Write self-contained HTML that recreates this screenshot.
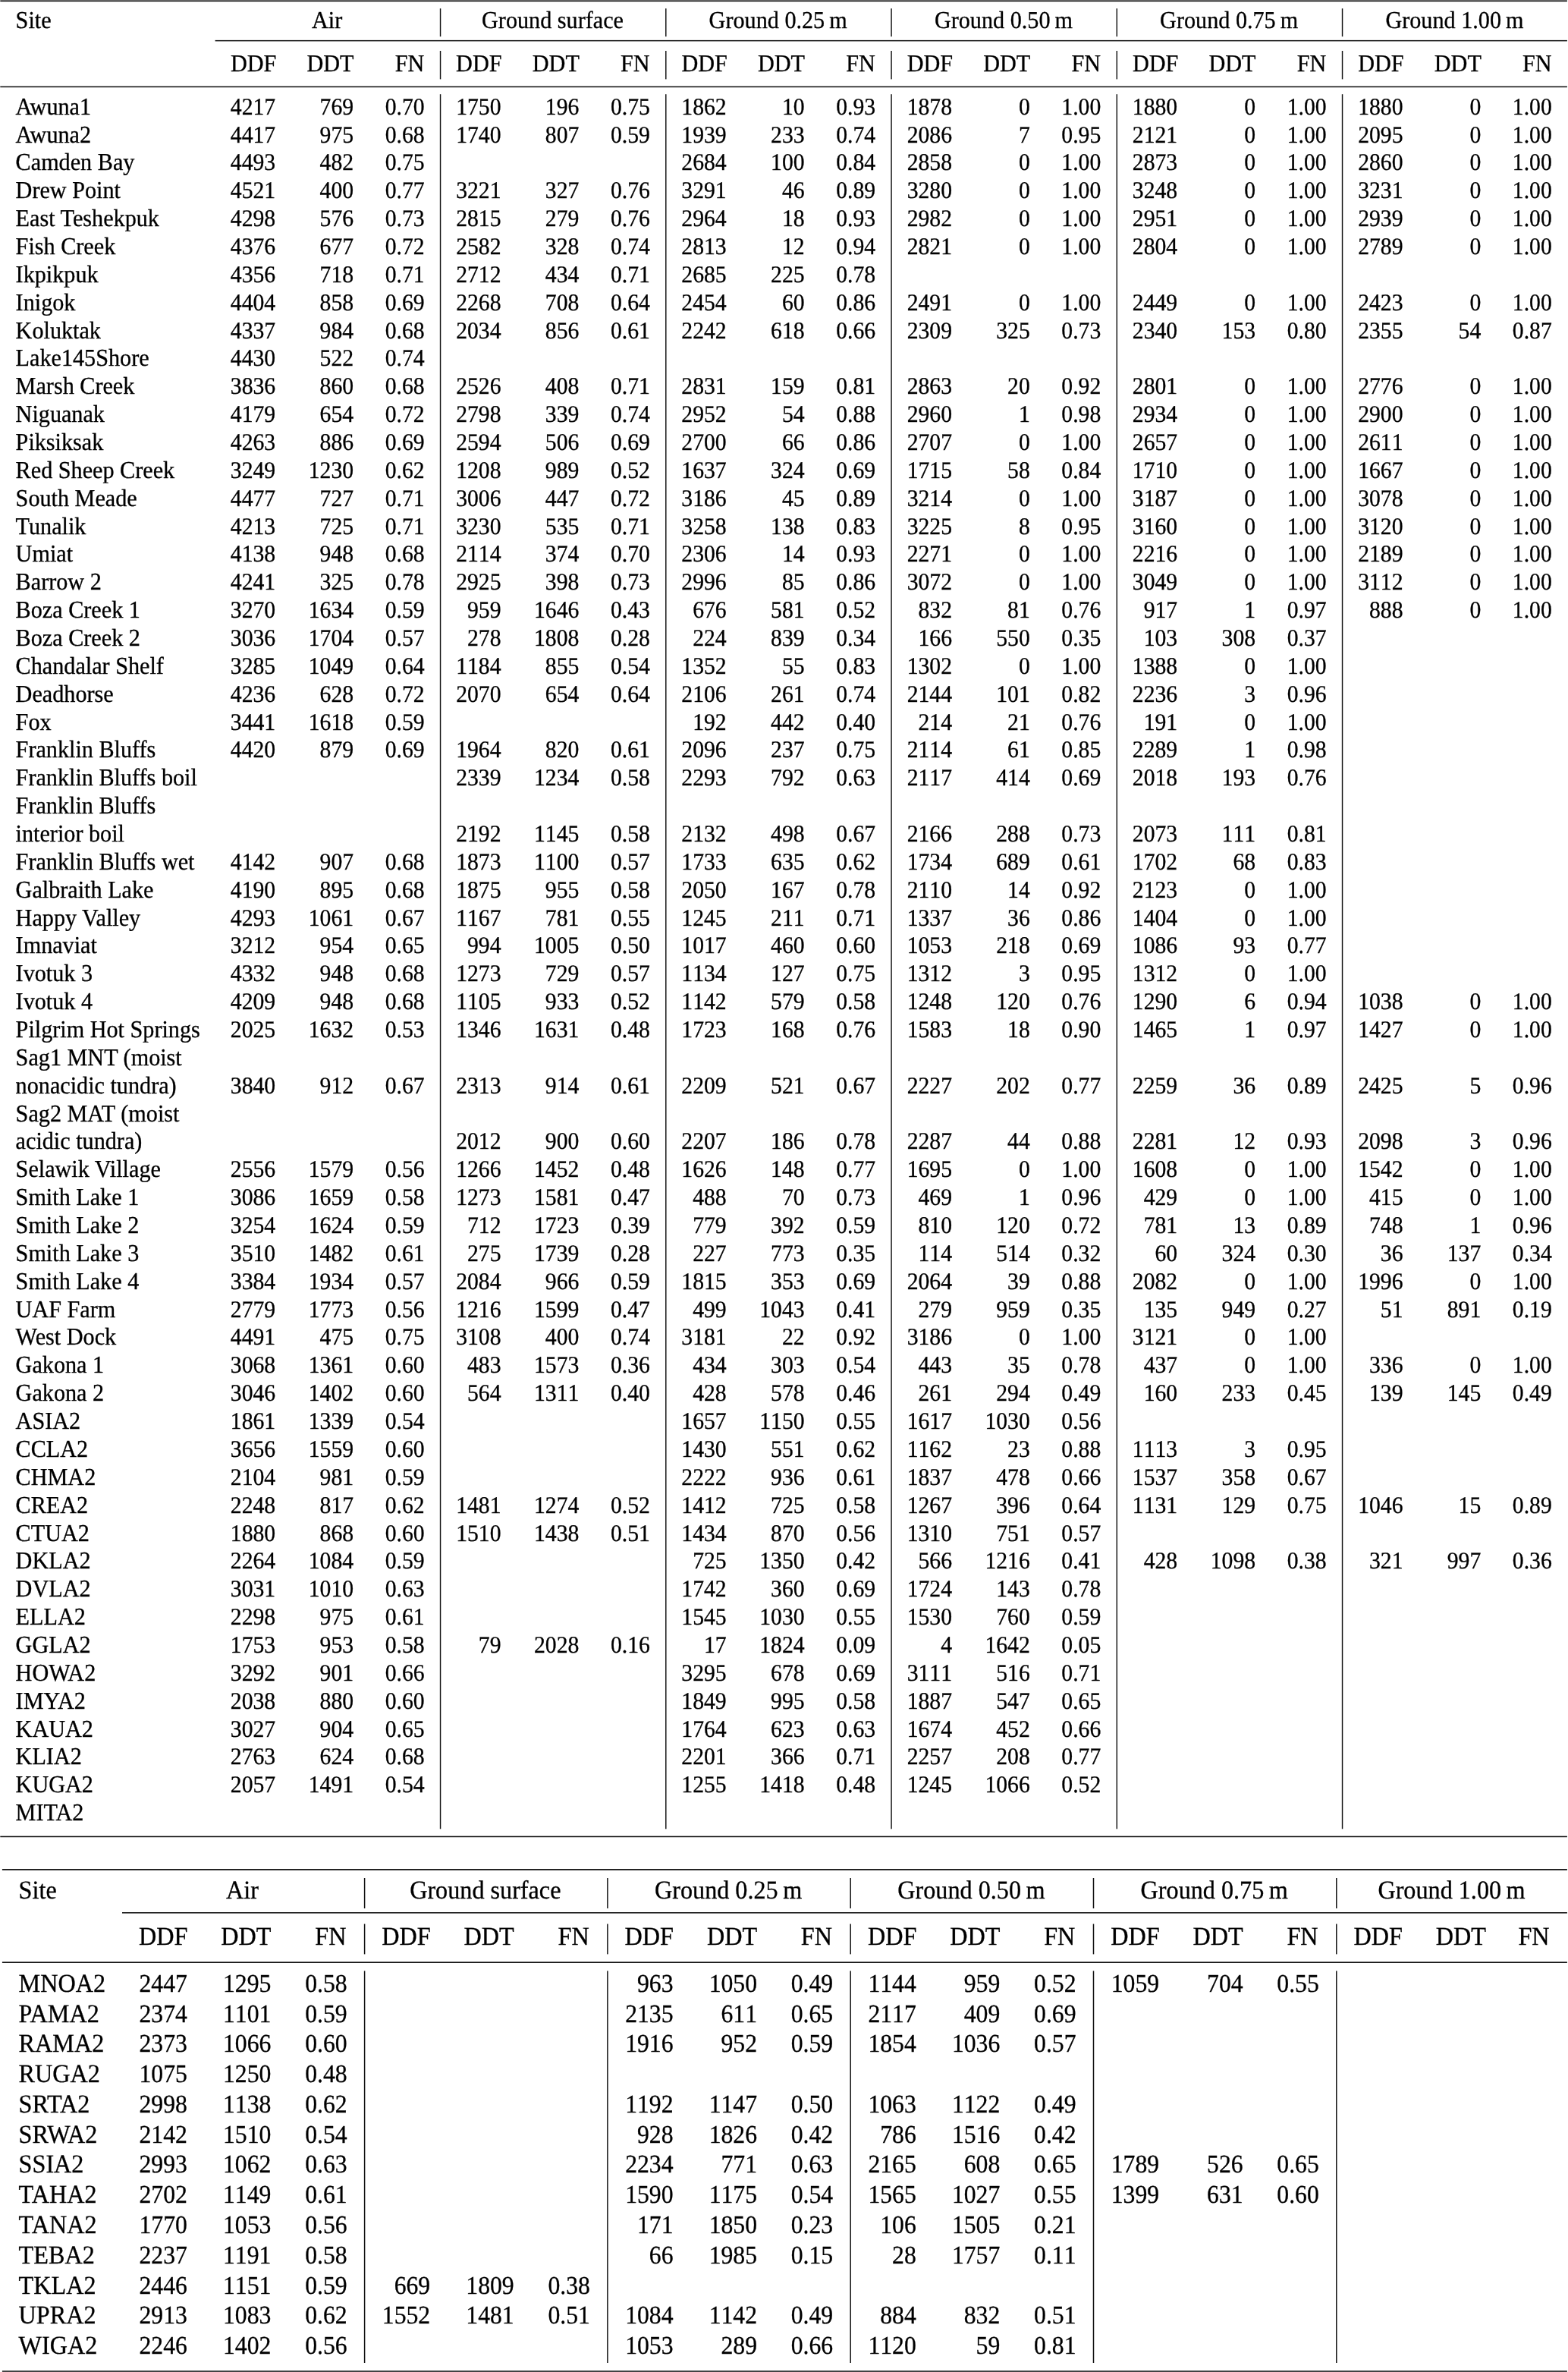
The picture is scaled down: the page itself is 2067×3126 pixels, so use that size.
<!DOCTYPE html>
<html lang="en"><head><meta charset="utf-8"><title>Table</title>
<style>
html,body{margin:0;padding:0;background:#fff;}
body{width:2067px;height:3126px;position:relative;overflow:hidden;font-family:"Liberation Serif","Times New Roman",Times,serif;color:#000;}
.t{position:absolute;white-space:pre;font-kerning:normal;font-variant-ligatures:none;text-rendering:geometricPrecision;-webkit-text-stroke:0.3px #000;}
.r{text-align:right;width:200px;}
.c{text-align:center;width:400px;}
.ln{position:absolute;left:0;top:0;}
.k1 .t{font-size:30.2px;line-height:34px;transform:scaleY(1.06);transform-origin:0 27px;}
.k1 .n{font-size:29.7px;line-height:32px;transform-origin:0 26px;font-kerning:none;}
.k2 .t{font-size:32.2px;line-height:36px;transform:scaleY(1.06);transform-origin:0 29px;}
.k2 .n{font-size:31.7px;line-height:35px;transform-origin:0 28px;font-kerning:none;}
</style></head><body>
<div class="k1" style="will-change:transform">
<div class="t" style="left:20.6px;top:10px">Site</div>
<div class="t c" style="left:231.2px;top:10px">Air</div>
<div class="t" style="left:303.9px;top:67px">DDF</div>
<div class="t" style="left:404.5px;top:67px">DDT</div>
<div class="t r" style="left:359.3px;top:67px">FN</div>
<div class="t c" style="left:528.5px;top:10px">Ground surface</div>
<div class="t" style="left:601.1px;top:67px">DDF</div>
<div class="t" style="left:701.8px;top:67px">DDT</div>
<div class="t r" style="left:656.5px;top:67px">FN</div>
<div class="t c" style="left:825.7px;top:10px">Ground 0.25&#8201;m</div>
<div class="t" style="left:898.4px;top:67px">DDF</div>
<div class="t" style="left:999.0px;top:67px">DDT</div>
<div class="t r" style="left:953.8px;top:67px">FN</div>
<div class="t c" style="left:1123.0px;top:10px">Ground 0.50&#8201;m</div>
<div class="t" style="left:1195.7px;top:67px">DDF</div>
<div class="t" style="left:1296.2px;top:67px">DDT</div>
<div class="t r" style="left:1251.0px;top:67px">FN</div>
<div class="t c" style="left:1420.2px;top:10px">Ground 0.75&#8201;m</div>
<div class="t" style="left:1492.9px;top:67px">DDF</div>
<div class="t" style="left:1593.5px;top:67px">DDT</div>
<div class="t r" style="left:1548.3px;top:67px">FN</div>
<div class="t c" style="left:1717.5px;top:10px">Ground 1.00&#8201;m</div>
<div class="t" style="left:1790.2px;top:67px">DDF</div>
<div class="t" style="left:1890.8px;top:67px">DDT</div>
<div class="t r" style="left:1845.5px;top:67px">FN</div>
<div class="t" style="left:20.6px;top:124px">Awuna1</div>
<div class="t n r" style="left:163.2px;top:126px">4217</div>
<div class="t n r" style="left:266.1px;top:126px">769</div>
<div class="t n r" style="left:359.6px;top:126px">0.70</div>
<div class="t n r" style="left:460.5px;top:126px">1750</div>
<div class="t n r" style="left:563.4px;top:126px">196</div>
<div class="t n r" style="left:656.9px;top:126px">0.75</div>
<div class="t n r" style="left:757.7px;top:126px">1862</div>
<div class="t n r" style="left:860.6px;top:126px">10</div>
<div class="t n r" style="left:954.1px;top:126px">0.93</div>
<div class="t n r" style="left:1055.0px;top:126px">1878</div>
<div class="t n r" style="left:1157.8px;top:126px">0</div>
<div class="t n r" style="left:1251.3px;top:126px">1.00</div>
<div class="t n r" style="left:1352.2px;top:126px">1880</div>
<div class="t n r" style="left:1455.1px;top:126px">0</div>
<div class="t n r" style="left:1548.6px;top:126px">1.00</div>
<div class="t n r" style="left:1649.5px;top:126px">1880</div>
<div class="t n r" style="left:1752.3px;top:126px">0</div>
<div class="t n r" style="left:1845.8px;top:126px">1.00</div>
<div class="t" style="left:20.6px;top:161px">Awuna2</div>
<div class="t n r" style="left:163.2px;top:163px">4417</div>
<div class="t n r" style="left:266.1px;top:163px">975</div>
<div class="t n r" style="left:359.6px;top:163px">0.68</div>
<div class="t n r" style="left:460.5px;top:163px">1740</div>
<div class="t n r" style="left:563.4px;top:163px">807</div>
<div class="t n r" style="left:656.9px;top:163px">0.59</div>
<div class="t n r" style="left:757.7px;top:163px">1939</div>
<div class="t n r" style="left:860.6px;top:163px">233</div>
<div class="t n r" style="left:954.1px;top:163px">0.74</div>
<div class="t n r" style="left:1055.0px;top:163px">2086</div>
<div class="t n r" style="left:1157.8px;top:163px">7</div>
<div class="t n r" style="left:1251.3px;top:163px">0.95</div>
<div class="t n r" style="left:1352.2px;top:163px">2121</div>
<div class="t n r" style="left:1455.1px;top:163px">0</div>
<div class="t n r" style="left:1548.6px;top:163px">1.00</div>
<div class="t n r" style="left:1649.5px;top:163px">2095</div>
<div class="t n r" style="left:1752.3px;top:163px">0</div>
<div class="t n r" style="left:1845.8px;top:163px">1.00</div>
<div class="t" style="left:20.6px;top:197px">Camden Bay</div>
<div class="t n r" style="left:163.2px;top:199px">4493</div>
<div class="t n r" style="left:266.1px;top:199px">482</div>
<div class="t n r" style="left:359.6px;top:199px">0.75</div>
<div class="t n r" style="left:757.7px;top:199px">2684</div>
<div class="t n r" style="left:860.6px;top:199px">100</div>
<div class="t n r" style="left:954.1px;top:199px">0.84</div>
<div class="t n r" style="left:1055.0px;top:199px">2858</div>
<div class="t n r" style="left:1157.8px;top:199px">0</div>
<div class="t n r" style="left:1251.3px;top:199px">1.00</div>
<div class="t n r" style="left:1352.2px;top:199px">2873</div>
<div class="t n r" style="left:1455.1px;top:199px">0</div>
<div class="t n r" style="left:1548.6px;top:199px">1.00</div>
<div class="t n r" style="left:1649.5px;top:199px">2860</div>
<div class="t n r" style="left:1752.3px;top:199px">0</div>
<div class="t n r" style="left:1845.8px;top:199px">1.00</div>
<div class="t" style="left:20.6px;top:234px">Drew Point</div>
<div class="t n r" style="left:163.2px;top:236px">4521</div>
<div class="t n r" style="left:266.1px;top:236px">400</div>
<div class="t n r" style="left:359.6px;top:236px">0.77</div>
<div class="t n r" style="left:460.5px;top:236px">3221</div>
<div class="t n r" style="left:563.4px;top:236px">327</div>
<div class="t n r" style="left:656.9px;top:236px">0.76</div>
<div class="t n r" style="left:757.7px;top:236px">3291</div>
<div class="t n r" style="left:860.6px;top:236px">46</div>
<div class="t n r" style="left:954.1px;top:236px">0.89</div>
<div class="t n r" style="left:1055.0px;top:236px">3280</div>
<div class="t n r" style="left:1157.8px;top:236px">0</div>
<div class="t n r" style="left:1251.3px;top:236px">1.00</div>
<div class="t n r" style="left:1352.2px;top:236px">3248</div>
<div class="t n r" style="left:1455.1px;top:236px">0</div>
<div class="t n r" style="left:1548.6px;top:236px">1.00</div>
<div class="t n r" style="left:1649.5px;top:236px">3231</div>
<div class="t n r" style="left:1752.3px;top:236px">0</div>
<div class="t n r" style="left:1845.8px;top:236px">1.00</div>
<div class="t" style="left:20.6px;top:271px">East Teshekpuk</div>
<div class="t n r" style="left:163.2px;top:273px">4298</div>
<div class="t n r" style="left:266.1px;top:273px">576</div>
<div class="t n r" style="left:359.6px;top:273px">0.73</div>
<div class="t n r" style="left:460.5px;top:273px">2815</div>
<div class="t n r" style="left:563.4px;top:273px">279</div>
<div class="t n r" style="left:656.9px;top:273px">0.76</div>
<div class="t n r" style="left:757.7px;top:273px">2964</div>
<div class="t n r" style="left:860.6px;top:273px">18</div>
<div class="t n r" style="left:954.1px;top:273px">0.93</div>
<div class="t n r" style="left:1055.0px;top:273px">2982</div>
<div class="t n r" style="left:1157.8px;top:273px">0</div>
<div class="t n r" style="left:1251.3px;top:273px">1.00</div>
<div class="t n r" style="left:1352.2px;top:273px">2951</div>
<div class="t n r" style="left:1455.1px;top:273px">0</div>
<div class="t n r" style="left:1548.6px;top:273px">1.00</div>
<div class="t n r" style="left:1649.5px;top:273px">2939</div>
<div class="t n r" style="left:1752.3px;top:273px">0</div>
<div class="t n r" style="left:1845.8px;top:273px">1.00</div>
<div class="t" style="left:20.6px;top:308px">Fish Creek</div>
<div class="t n r" style="left:163.2px;top:310px">4376</div>
<div class="t n r" style="left:266.1px;top:310px">677</div>
<div class="t n r" style="left:359.6px;top:310px">0.72</div>
<div class="t n r" style="left:460.5px;top:310px">2582</div>
<div class="t n r" style="left:563.4px;top:310px">328</div>
<div class="t n r" style="left:656.9px;top:310px">0.74</div>
<div class="t n r" style="left:757.7px;top:310px">2813</div>
<div class="t n r" style="left:860.6px;top:310px">12</div>
<div class="t n r" style="left:954.1px;top:310px">0.94</div>
<div class="t n r" style="left:1055.0px;top:310px">2821</div>
<div class="t n r" style="left:1157.8px;top:310px">0</div>
<div class="t n r" style="left:1251.3px;top:310px">1.00</div>
<div class="t n r" style="left:1352.2px;top:310px">2804</div>
<div class="t n r" style="left:1455.1px;top:310px">0</div>
<div class="t n r" style="left:1548.6px;top:310px">1.00</div>
<div class="t n r" style="left:1649.5px;top:310px">2789</div>
<div class="t n r" style="left:1752.3px;top:310px">0</div>
<div class="t n r" style="left:1845.8px;top:310px">1.00</div>
<div class="t" style="left:20.6px;top:345px">Ikpikpuk</div>
<div class="t n r" style="left:163.2px;top:347px">4356</div>
<div class="t n r" style="left:266.1px;top:347px">718</div>
<div class="t n r" style="left:359.6px;top:347px">0.71</div>
<div class="t n r" style="left:460.5px;top:347px">2712</div>
<div class="t n r" style="left:563.4px;top:347px">434</div>
<div class="t n r" style="left:656.9px;top:347px">0.71</div>
<div class="t n r" style="left:757.7px;top:347px">2685</div>
<div class="t n r" style="left:860.6px;top:347px">225</div>
<div class="t n r" style="left:954.1px;top:347px">0.78</div>
<div class="t" style="left:20.6px;top:382px">Inigok</div>
<div class="t n r" style="left:163.2px;top:384px">4404</div>
<div class="t n r" style="left:266.1px;top:384px">858</div>
<div class="t n r" style="left:359.6px;top:384px">0.69</div>
<div class="t n r" style="left:460.5px;top:384px">2268</div>
<div class="t n r" style="left:563.4px;top:384px">708</div>
<div class="t n r" style="left:656.9px;top:384px">0.64</div>
<div class="t n r" style="left:757.7px;top:384px">2454</div>
<div class="t n r" style="left:860.6px;top:384px">60</div>
<div class="t n r" style="left:954.1px;top:384px">0.86</div>
<div class="t n r" style="left:1055.0px;top:384px">2491</div>
<div class="t n r" style="left:1157.8px;top:384px">0</div>
<div class="t n r" style="left:1251.3px;top:384px">1.00</div>
<div class="t n r" style="left:1352.2px;top:384px">2449</div>
<div class="t n r" style="left:1455.1px;top:384px">0</div>
<div class="t n r" style="left:1548.6px;top:384px">1.00</div>
<div class="t n r" style="left:1649.5px;top:384px">2423</div>
<div class="t n r" style="left:1752.3px;top:384px">0</div>
<div class="t n r" style="left:1845.8px;top:384px">1.00</div>
<div class="t" style="left:20.6px;top:419px">Koluktak</div>
<div class="t n r" style="left:163.2px;top:421px">4337</div>
<div class="t n r" style="left:266.1px;top:421px">984</div>
<div class="t n r" style="left:359.6px;top:421px">0.68</div>
<div class="t n r" style="left:460.5px;top:421px">2034</div>
<div class="t n r" style="left:563.4px;top:421px">856</div>
<div class="t n r" style="left:656.9px;top:421px">0.61</div>
<div class="t n r" style="left:757.7px;top:421px">2242</div>
<div class="t n r" style="left:860.6px;top:421px">618</div>
<div class="t n r" style="left:954.1px;top:421px">0.66</div>
<div class="t n r" style="left:1055.0px;top:421px">2309</div>
<div class="t n r" style="left:1157.8px;top:421px">325</div>
<div class="t n r" style="left:1251.3px;top:421px">0.73</div>
<div class="t n r" style="left:1352.2px;top:421px">2340</div>
<div class="t n r" style="left:1455.1px;top:421px">153</div>
<div class="t n r" style="left:1548.6px;top:421px">0.80</div>
<div class="t n r" style="left:1649.5px;top:421px">2355</div>
<div class="t n r" style="left:1752.3px;top:421px">54</div>
<div class="t n r" style="left:1845.8px;top:421px">0.87</div>
<div class="t" style="left:20.6px;top:455px">Lake145Shore</div>
<div class="t n r" style="left:163.2px;top:457px">4430</div>
<div class="t n r" style="left:266.1px;top:457px">522</div>
<div class="t n r" style="left:359.6px;top:457px">0.74</div>
<div class="t" style="left:20.6px;top:492px">Marsh Creek</div>
<div class="t n r" style="left:163.2px;top:494px">3836</div>
<div class="t n r" style="left:266.1px;top:494px">860</div>
<div class="t n r" style="left:359.6px;top:494px">0.68</div>
<div class="t n r" style="left:460.5px;top:494px">2526</div>
<div class="t n r" style="left:563.4px;top:494px">408</div>
<div class="t n r" style="left:656.9px;top:494px">0.71</div>
<div class="t n r" style="left:757.7px;top:494px">2831</div>
<div class="t n r" style="left:860.6px;top:494px">159</div>
<div class="t n r" style="left:954.1px;top:494px">0.81</div>
<div class="t n r" style="left:1055.0px;top:494px">2863</div>
<div class="t n r" style="left:1157.8px;top:494px">20</div>
<div class="t n r" style="left:1251.3px;top:494px">0.92</div>
<div class="t n r" style="left:1352.2px;top:494px">2801</div>
<div class="t n r" style="left:1455.1px;top:494px">0</div>
<div class="t n r" style="left:1548.6px;top:494px">1.00</div>
<div class="t n r" style="left:1649.5px;top:494px">2776</div>
<div class="t n r" style="left:1752.3px;top:494px">0</div>
<div class="t n r" style="left:1845.8px;top:494px">1.00</div>
<div class="t" style="left:20.6px;top:529px">Niguanak</div>
<div class="t n r" style="left:163.2px;top:531px">4179</div>
<div class="t n r" style="left:266.1px;top:531px">654</div>
<div class="t n r" style="left:359.6px;top:531px">0.72</div>
<div class="t n r" style="left:460.5px;top:531px">2798</div>
<div class="t n r" style="left:563.4px;top:531px">339</div>
<div class="t n r" style="left:656.9px;top:531px">0.74</div>
<div class="t n r" style="left:757.7px;top:531px">2952</div>
<div class="t n r" style="left:860.6px;top:531px">54</div>
<div class="t n r" style="left:954.1px;top:531px">0.88</div>
<div class="t n r" style="left:1055.0px;top:531px">2960</div>
<div class="t n r" style="left:1157.8px;top:531px">1</div>
<div class="t n r" style="left:1251.3px;top:531px">0.98</div>
<div class="t n r" style="left:1352.2px;top:531px">2934</div>
<div class="t n r" style="left:1455.1px;top:531px">0</div>
<div class="t n r" style="left:1548.6px;top:531px">1.00</div>
<div class="t n r" style="left:1649.5px;top:531px">2900</div>
<div class="t n r" style="left:1752.3px;top:531px">0</div>
<div class="t n r" style="left:1845.8px;top:531px">1.00</div>
<div class="t" style="left:20.6px;top:566px">Piksiksak</div>
<div class="t n r" style="left:163.2px;top:568px">4263</div>
<div class="t n r" style="left:266.1px;top:568px">886</div>
<div class="t n r" style="left:359.6px;top:568px">0.69</div>
<div class="t n r" style="left:460.5px;top:568px">2594</div>
<div class="t n r" style="left:563.4px;top:568px">506</div>
<div class="t n r" style="left:656.9px;top:568px">0.69</div>
<div class="t n r" style="left:757.7px;top:568px">2700</div>
<div class="t n r" style="left:860.6px;top:568px">66</div>
<div class="t n r" style="left:954.1px;top:568px">0.86</div>
<div class="t n r" style="left:1055.0px;top:568px">2707</div>
<div class="t n r" style="left:1157.8px;top:568px">0</div>
<div class="t n r" style="left:1251.3px;top:568px">1.00</div>
<div class="t n r" style="left:1352.2px;top:568px">2657</div>
<div class="t n r" style="left:1455.1px;top:568px">0</div>
<div class="t n r" style="left:1548.6px;top:568px">1.00</div>
<div class="t n r" style="left:1649.5px;top:568px">2611</div>
<div class="t n r" style="left:1752.3px;top:568px">0</div>
<div class="t n r" style="left:1845.8px;top:568px">1.00</div>
<div class="t" style="left:20.6px;top:603px">Red Sheep Creek</div>
<div class="t n r" style="left:163.2px;top:605px">3249</div>
<div class="t n r" style="left:266.1px;top:605px">1230</div>
<div class="t n r" style="left:359.6px;top:605px">0.62</div>
<div class="t n r" style="left:460.5px;top:605px">1208</div>
<div class="t n r" style="left:563.4px;top:605px">989</div>
<div class="t n r" style="left:656.9px;top:605px">0.52</div>
<div class="t n r" style="left:757.7px;top:605px">1637</div>
<div class="t n r" style="left:860.6px;top:605px">324</div>
<div class="t n r" style="left:954.1px;top:605px">0.69</div>
<div class="t n r" style="left:1055.0px;top:605px">1715</div>
<div class="t n r" style="left:1157.8px;top:605px">58</div>
<div class="t n r" style="left:1251.3px;top:605px">0.84</div>
<div class="t n r" style="left:1352.2px;top:605px">1710</div>
<div class="t n r" style="left:1455.1px;top:605px">0</div>
<div class="t n r" style="left:1548.6px;top:605px">1.00</div>
<div class="t n r" style="left:1649.5px;top:605px">1667</div>
<div class="t n r" style="left:1752.3px;top:605px">0</div>
<div class="t n r" style="left:1845.8px;top:605px">1.00</div>
<div class="t" style="left:20.6px;top:640px">South Meade</div>
<div class="t n r" style="left:163.2px;top:642px">4477</div>
<div class="t n r" style="left:266.1px;top:642px">727</div>
<div class="t n r" style="left:359.6px;top:642px">0.71</div>
<div class="t n r" style="left:460.5px;top:642px">3006</div>
<div class="t n r" style="left:563.4px;top:642px">447</div>
<div class="t n r" style="left:656.9px;top:642px">0.72</div>
<div class="t n r" style="left:757.7px;top:642px">3186</div>
<div class="t n r" style="left:860.6px;top:642px">45</div>
<div class="t n r" style="left:954.1px;top:642px">0.89</div>
<div class="t n r" style="left:1055.0px;top:642px">3214</div>
<div class="t n r" style="left:1157.8px;top:642px">0</div>
<div class="t n r" style="left:1251.3px;top:642px">1.00</div>
<div class="t n r" style="left:1352.2px;top:642px">3187</div>
<div class="t n r" style="left:1455.1px;top:642px">0</div>
<div class="t n r" style="left:1548.6px;top:642px">1.00</div>
<div class="t n r" style="left:1649.5px;top:642px">3078</div>
<div class="t n r" style="left:1752.3px;top:642px">0</div>
<div class="t n r" style="left:1845.8px;top:642px">1.00</div>
<div class="t" style="left:20.6px;top:677px">Tunalik</div>
<div class="t n r" style="left:163.2px;top:679px">4213</div>
<div class="t n r" style="left:266.1px;top:679px">725</div>
<div class="t n r" style="left:359.6px;top:679px">0.71</div>
<div class="t n r" style="left:460.5px;top:679px">3230</div>
<div class="t n r" style="left:563.4px;top:679px">535</div>
<div class="t n r" style="left:656.9px;top:679px">0.71</div>
<div class="t n r" style="left:757.7px;top:679px">3258</div>
<div class="t n r" style="left:860.6px;top:679px">138</div>
<div class="t n r" style="left:954.1px;top:679px">0.83</div>
<div class="t n r" style="left:1055.0px;top:679px">3225</div>
<div class="t n r" style="left:1157.8px;top:679px">8</div>
<div class="t n r" style="left:1251.3px;top:679px">0.95</div>
<div class="t n r" style="left:1352.2px;top:679px">3160</div>
<div class="t n r" style="left:1455.1px;top:679px">0</div>
<div class="t n r" style="left:1548.6px;top:679px">1.00</div>
<div class="t n r" style="left:1649.5px;top:679px">3120</div>
<div class="t n r" style="left:1752.3px;top:679px">0</div>
<div class="t n r" style="left:1845.8px;top:679px">1.00</div>
<div class="t" style="left:20.6px;top:713px">Umiat</div>
<div class="t n r" style="left:163.2px;top:715px">4138</div>
<div class="t n r" style="left:266.1px;top:715px">948</div>
<div class="t n r" style="left:359.6px;top:715px">0.68</div>
<div class="t n r" style="left:460.5px;top:715px">2114</div>
<div class="t n r" style="left:563.4px;top:715px">374</div>
<div class="t n r" style="left:656.9px;top:715px">0.70</div>
<div class="t n r" style="left:757.7px;top:715px">2306</div>
<div class="t n r" style="left:860.6px;top:715px">14</div>
<div class="t n r" style="left:954.1px;top:715px">0.93</div>
<div class="t n r" style="left:1055.0px;top:715px">2271</div>
<div class="t n r" style="left:1157.8px;top:715px">0</div>
<div class="t n r" style="left:1251.3px;top:715px">1.00</div>
<div class="t n r" style="left:1352.2px;top:715px">2216</div>
<div class="t n r" style="left:1455.1px;top:715px">0</div>
<div class="t n r" style="left:1548.6px;top:715px">1.00</div>
<div class="t n r" style="left:1649.5px;top:715px">2189</div>
<div class="t n r" style="left:1752.3px;top:715px">0</div>
<div class="t n r" style="left:1845.8px;top:715px">1.00</div>
<div class="t" style="left:20.6px;top:750px">Barrow 2</div>
<div class="t n r" style="left:163.2px;top:752px">4241</div>
<div class="t n r" style="left:266.1px;top:752px">325</div>
<div class="t n r" style="left:359.6px;top:752px">0.78</div>
<div class="t n r" style="left:460.5px;top:752px">2925</div>
<div class="t n r" style="left:563.4px;top:752px">398</div>
<div class="t n r" style="left:656.9px;top:752px">0.73</div>
<div class="t n r" style="left:757.7px;top:752px">2996</div>
<div class="t n r" style="left:860.6px;top:752px">85</div>
<div class="t n r" style="left:954.1px;top:752px">0.86</div>
<div class="t n r" style="left:1055.0px;top:752px">3072</div>
<div class="t n r" style="left:1157.8px;top:752px">0</div>
<div class="t n r" style="left:1251.3px;top:752px">1.00</div>
<div class="t n r" style="left:1352.2px;top:752px">3049</div>
<div class="t n r" style="left:1455.1px;top:752px">0</div>
<div class="t n r" style="left:1548.6px;top:752px">1.00</div>
<div class="t n r" style="left:1649.5px;top:752px">3112</div>
<div class="t n r" style="left:1752.3px;top:752px">0</div>
<div class="t n r" style="left:1845.8px;top:752px">1.00</div>
<div class="t" style="left:20.6px;top:787px">Boza Creek 1</div>
<div class="t n r" style="left:163.2px;top:789px">3270</div>
<div class="t n r" style="left:266.1px;top:789px">1634</div>
<div class="t n r" style="left:359.6px;top:789px">0.59</div>
<div class="t n r" style="left:460.5px;top:789px">959</div>
<div class="t n r" style="left:563.4px;top:789px">1646</div>
<div class="t n r" style="left:656.9px;top:789px">0.43</div>
<div class="t n r" style="left:757.7px;top:789px">676</div>
<div class="t n r" style="left:860.6px;top:789px">581</div>
<div class="t n r" style="left:954.1px;top:789px">0.52</div>
<div class="t n r" style="left:1055.0px;top:789px">832</div>
<div class="t n r" style="left:1157.8px;top:789px">81</div>
<div class="t n r" style="left:1251.3px;top:789px">0.76</div>
<div class="t n r" style="left:1352.2px;top:789px">917</div>
<div class="t n r" style="left:1455.1px;top:789px">1</div>
<div class="t n r" style="left:1548.6px;top:789px">0.97</div>
<div class="t n r" style="left:1649.5px;top:789px">888</div>
<div class="t n r" style="left:1752.3px;top:789px">0</div>
<div class="t n r" style="left:1845.8px;top:789px">1.00</div>
<div class="t" style="left:20.6px;top:824px">Boza Creek 2</div>
<div class="t n r" style="left:163.2px;top:826px">3036</div>
<div class="t n r" style="left:266.1px;top:826px">1704</div>
<div class="t n r" style="left:359.6px;top:826px">0.57</div>
<div class="t n r" style="left:460.5px;top:826px">278</div>
<div class="t n r" style="left:563.4px;top:826px">1808</div>
<div class="t n r" style="left:656.9px;top:826px">0.28</div>
<div class="t n r" style="left:757.7px;top:826px">224</div>
<div class="t n r" style="left:860.6px;top:826px">839</div>
<div class="t n r" style="left:954.1px;top:826px">0.34</div>
<div class="t n r" style="left:1055.0px;top:826px">166</div>
<div class="t n r" style="left:1157.8px;top:826px">550</div>
<div class="t n r" style="left:1251.3px;top:826px">0.35</div>
<div class="t n r" style="left:1352.2px;top:826px">103</div>
<div class="t n r" style="left:1455.1px;top:826px">308</div>
<div class="t n r" style="left:1548.6px;top:826px">0.37</div>
<div class="t" style="left:20.6px;top:861px">Chandalar Shelf</div>
<div class="t n r" style="left:163.2px;top:863px">3285</div>
<div class="t n r" style="left:266.1px;top:863px">1049</div>
<div class="t n r" style="left:359.6px;top:863px">0.64</div>
<div class="t n r" style="left:460.5px;top:863px">1184</div>
<div class="t n r" style="left:563.4px;top:863px">855</div>
<div class="t n r" style="left:656.9px;top:863px">0.54</div>
<div class="t n r" style="left:757.7px;top:863px">1352</div>
<div class="t n r" style="left:860.6px;top:863px">55</div>
<div class="t n r" style="left:954.1px;top:863px">0.83</div>
<div class="t n r" style="left:1055.0px;top:863px">1302</div>
<div class="t n r" style="left:1157.8px;top:863px">0</div>
<div class="t n r" style="left:1251.3px;top:863px">1.00</div>
<div class="t n r" style="left:1352.2px;top:863px">1388</div>
<div class="t n r" style="left:1455.1px;top:863px">0</div>
<div class="t n r" style="left:1548.6px;top:863px">1.00</div>
<div class="t" style="left:20.6px;top:898px">Deadhorse</div>
<div class="t n r" style="left:163.2px;top:900px">4236</div>
<div class="t n r" style="left:266.1px;top:900px">628</div>
<div class="t n r" style="left:359.6px;top:900px">0.72</div>
<div class="t n r" style="left:460.5px;top:900px">2070</div>
<div class="t n r" style="left:563.4px;top:900px">654</div>
<div class="t n r" style="left:656.9px;top:900px">0.64</div>
<div class="t n r" style="left:757.7px;top:900px">2106</div>
<div class="t n r" style="left:860.6px;top:900px">261</div>
<div class="t n r" style="left:954.1px;top:900px">0.74</div>
<div class="t n r" style="left:1055.0px;top:900px">2144</div>
<div class="t n r" style="left:1157.8px;top:900px">101</div>
<div class="t n r" style="left:1251.3px;top:900px">0.82</div>
<div class="t n r" style="left:1352.2px;top:900px">2236</div>
<div class="t n r" style="left:1455.1px;top:900px">3</div>
<div class="t n r" style="left:1548.6px;top:900px">0.96</div>
<div class="t" style="left:20.6px;top:935px">Fox</div>
<div class="t n r" style="left:163.2px;top:937px">3441</div>
<div class="t n r" style="left:266.1px;top:937px">1618</div>
<div class="t n r" style="left:359.6px;top:937px">0.59</div>
<div class="t n r" style="left:757.7px;top:937px">192</div>
<div class="t n r" style="left:860.6px;top:937px">442</div>
<div class="t n r" style="left:954.1px;top:937px">0.40</div>
<div class="t n r" style="left:1055.0px;top:937px">214</div>
<div class="t n r" style="left:1157.8px;top:937px">21</div>
<div class="t n r" style="left:1251.3px;top:937px">0.76</div>
<div class="t n r" style="left:1352.2px;top:937px">191</div>
<div class="t n r" style="left:1455.1px;top:937px">0</div>
<div class="t n r" style="left:1548.6px;top:937px">1.00</div>
<div class="t" style="left:20.6px;top:971px">Franklin Bluffs</div>
<div class="t n r" style="left:163.2px;top:973px">4420</div>
<div class="t n r" style="left:266.1px;top:973px">879</div>
<div class="t n r" style="left:359.6px;top:973px">0.69</div>
<div class="t n r" style="left:460.5px;top:973px">1964</div>
<div class="t n r" style="left:563.4px;top:973px">820</div>
<div class="t n r" style="left:656.9px;top:973px">0.61</div>
<div class="t n r" style="left:757.7px;top:973px">2096</div>
<div class="t n r" style="left:860.6px;top:973px">237</div>
<div class="t n r" style="left:954.1px;top:973px">0.75</div>
<div class="t n r" style="left:1055.0px;top:973px">2114</div>
<div class="t n r" style="left:1157.8px;top:973px">61</div>
<div class="t n r" style="left:1251.3px;top:973px">0.85</div>
<div class="t n r" style="left:1352.2px;top:973px">2289</div>
<div class="t n r" style="left:1455.1px;top:973px">1</div>
<div class="t n r" style="left:1548.6px;top:973px">0.98</div>
<div class="t" style="left:20.6px;top:1008px">Franklin Bluffs boil</div>
<div class="t n r" style="left:460.5px;top:1010px">2339</div>
<div class="t n r" style="left:563.4px;top:1010px">1234</div>
<div class="t n r" style="left:656.9px;top:1010px">0.58</div>
<div class="t n r" style="left:757.7px;top:1010px">2293</div>
<div class="t n r" style="left:860.6px;top:1010px">792</div>
<div class="t n r" style="left:954.1px;top:1010px">0.63</div>
<div class="t n r" style="left:1055.0px;top:1010px">2117</div>
<div class="t n r" style="left:1157.8px;top:1010px">414</div>
<div class="t n r" style="left:1251.3px;top:1010px">0.69</div>
<div class="t n r" style="left:1352.2px;top:1010px">2018</div>
<div class="t n r" style="left:1455.1px;top:1010px">193</div>
<div class="t n r" style="left:1548.6px;top:1010px">0.76</div>
<div class="t" style="left:20.6px;top:1045px">Franklin Bluffs</div>
<div class="t" style="left:20.6px;top:1082px">interior boil</div>
<div class="t n r" style="left:460.5px;top:1084px">2192</div>
<div class="t n r" style="left:563.4px;top:1084px">1145</div>
<div class="t n r" style="left:656.9px;top:1084px">0.58</div>
<div class="t n r" style="left:757.7px;top:1084px">2132</div>
<div class="t n r" style="left:860.6px;top:1084px">498</div>
<div class="t n r" style="left:954.1px;top:1084px">0.67</div>
<div class="t n r" style="left:1055.0px;top:1084px">2166</div>
<div class="t n r" style="left:1157.8px;top:1084px">288</div>
<div class="t n r" style="left:1251.3px;top:1084px">0.73</div>
<div class="t n r" style="left:1352.2px;top:1084px">2073</div>
<div class="t n r" style="left:1455.1px;top:1084px">111</div>
<div class="t n r" style="left:1548.6px;top:1084px">0.81</div>
<div class="t" style="left:20.6px;top:1119px">Franklin Bluffs wet</div>
<div class="t n r" style="left:163.2px;top:1121px">4142</div>
<div class="t n r" style="left:266.1px;top:1121px">907</div>
<div class="t n r" style="left:359.6px;top:1121px">0.68</div>
<div class="t n r" style="left:460.5px;top:1121px">1873</div>
<div class="t n r" style="left:563.4px;top:1121px">1100</div>
<div class="t n r" style="left:656.9px;top:1121px">0.57</div>
<div class="t n r" style="left:757.7px;top:1121px">1733</div>
<div class="t n r" style="left:860.6px;top:1121px">635</div>
<div class="t n r" style="left:954.1px;top:1121px">0.62</div>
<div class="t n r" style="left:1055.0px;top:1121px">1734</div>
<div class="t n r" style="left:1157.8px;top:1121px">689</div>
<div class="t n r" style="left:1251.3px;top:1121px">0.61</div>
<div class="t n r" style="left:1352.2px;top:1121px">1702</div>
<div class="t n r" style="left:1455.1px;top:1121px">68</div>
<div class="t n r" style="left:1548.6px;top:1121px">0.83</div>
<div class="t" style="left:20.6px;top:1156px">Galbraith Lake</div>
<div class="t n r" style="left:163.2px;top:1158px">4190</div>
<div class="t n r" style="left:266.1px;top:1158px">895</div>
<div class="t n r" style="left:359.6px;top:1158px">0.68</div>
<div class="t n r" style="left:460.5px;top:1158px">1875</div>
<div class="t n r" style="left:563.4px;top:1158px">955</div>
<div class="t n r" style="left:656.9px;top:1158px">0.58</div>
<div class="t n r" style="left:757.7px;top:1158px">2050</div>
<div class="t n r" style="left:860.6px;top:1158px">167</div>
<div class="t n r" style="left:954.1px;top:1158px">0.78</div>
<div class="t n r" style="left:1055.0px;top:1158px">2110</div>
<div class="t n r" style="left:1157.8px;top:1158px">14</div>
<div class="t n r" style="left:1251.3px;top:1158px">0.92</div>
<div class="t n r" style="left:1352.2px;top:1158px">2123</div>
<div class="t n r" style="left:1455.1px;top:1158px">0</div>
<div class="t n r" style="left:1548.6px;top:1158px">1.00</div>
<div class="t" style="left:20.6px;top:1193px">Happy Valley</div>
<div class="t n r" style="left:163.2px;top:1195px">4293</div>
<div class="t n r" style="left:266.1px;top:1195px">1061</div>
<div class="t n r" style="left:359.6px;top:1195px">0.67</div>
<div class="t n r" style="left:460.5px;top:1195px">1167</div>
<div class="t n r" style="left:563.4px;top:1195px">781</div>
<div class="t n r" style="left:656.9px;top:1195px">0.55</div>
<div class="t n r" style="left:757.7px;top:1195px">1245</div>
<div class="t n r" style="left:860.6px;top:1195px">211</div>
<div class="t n r" style="left:954.1px;top:1195px">0.71</div>
<div class="t n r" style="left:1055.0px;top:1195px">1337</div>
<div class="t n r" style="left:1157.8px;top:1195px">36</div>
<div class="t n r" style="left:1251.3px;top:1195px">0.86</div>
<div class="t n r" style="left:1352.2px;top:1195px">1404</div>
<div class="t n r" style="left:1455.1px;top:1195px">0</div>
<div class="t n r" style="left:1548.6px;top:1195px">1.00</div>
<div class="t" style="left:20.6px;top:1229px">Imnaviat</div>
<div class="t n r" style="left:163.2px;top:1231px">3212</div>
<div class="t n r" style="left:266.1px;top:1231px">954</div>
<div class="t n r" style="left:359.6px;top:1231px">0.65</div>
<div class="t n r" style="left:460.5px;top:1231px">994</div>
<div class="t n r" style="left:563.4px;top:1231px">1005</div>
<div class="t n r" style="left:656.9px;top:1231px">0.50</div>
<div class="t n r" style="left:757.7px;top:1231px">1017</div>
<div class="t n r" style="left:860.6px;top:1231px">460</div>
<div class="t n r" style="left:954.1px;top:1231px">0.60</div>
<div class="t n r" style="left:1055.0px;top:1231px">1053</div>
<div class="t n r" style="left:1157.8px;top:1231px">218</div>
<div class="t n r" style="left:1251.3px;top:1231px">0.69</div>
<div class="t n r" style="left:1352.2px;top:1231px">1086</div>
<div class="t n r" style="left:1455.1px;top:1231px">93</div>
<div class="t n r" style="left:1548.6px;top:1231px">0.77</div>
<div class="t" style="left:20.6px;top:1266px">Ivotuk 3</div>
<div class="t n r" style="left:163.2px;top:1268px">4332</div>
<div class="t n r" style="left:266.1px;top:1268px">948</div>
<div class="t n r" style="left:359.6px;top:1268px">0.68</div>
<div class="t n r" style="left:460.5px;top:1268px">1273</div>
<div class="t n r" style="left:563.4px;top:1268px">729</div>
<div class="t n r" style="left:656.9px;top:1268px">0.57</div>
<div class="t n r" style="left:757.7px;top:1268px">1134</div>
<div class="t n r" style="left:860.6px;top:1268px">127</div>
<div class="t n r" style="left:954.1px;top:1268px">0.75</div>
<div class="t n r" style="left:1055.0px;top:1268px">1312</div>
<div class="t n r" style="left:1157.8px;top:1268px">3</div>
<div class="t n r" style="left:1251.3px;top:1268px">0.95</div>
<div class="t n r" style="left:1352.2px;top:1268px">1312</div>
<div class="t n r" style="left:1455.1px;top:1268px">0</div>
<div class="t n r" style="left:1548.6px;top:1268px">1.00</div>
<div class="t" style="left:20.6px;top:1303px">Ivotuk 4</div>
<div class="t n r" style="left:163.2px;top:1305px">4209</div>
<div class="t n r" style="left:266.1px;top:1305px">948</div>
<div class="t n r" style="left:359.6px;top:1305px">0.68</div>
<div class="t n r" style="left:460.5px;top:1305px">1105</div>
<div class="t n r" style="left:563.4px;top:1305px">933</div>
<div class="t n r" style="left:656.9px;top:1305px">0.52</div>
<div class="t n r" style="left:757.7px;top:1305px">1142</div>
<div class="t n r" style="left:860.6px;top:1305px">579</div>
<div class="t n r" style="left:954.1px;top:1305px">0.58</div>
<div class="t n r" style="left:1055.0px;top:1305px">1248</div>
<div class="t n r" style="left:1157.8px;top:1305px">120</div>
<div class="t n r" style="left:1251.3px;top:1305px">0.76</div>
<div class="t n r" style="left:1352.2px;top:1305px">1290</div>
<div class="t n r" style="left:1455.1px;top:1305px">6</div>
<div class="t n r" style="left:1548.6px;top:1305px">0.94</div>
<div class="t n r" style="left:1649.5px;top:1305px">1038</div>
<div class="t n r" style="left:1752.3px;top:1305px">0</div>
<div class="t n r" style="left:1845.8px;top:1305px">1.00</div>
<div class="t" style="left:20.6px;top:1340px">Pilgrim Hot Springs</div>
<div class="t n r" style="left:163.2px;top:1342px">2025</div>
<div class="t n r" style="left:266.1px;top:1342px">1632</div>
<div class="t n r" style="left:359.6px;top:1342px">0.53</div>
<div class="t n r" style="left:460.5px;top:1342px">1346</div>
<div class="t n r" style="left:563.4px;top:1342px">1631</div>
<div class="t n r" style="left:656.9px;top:1342px">0.48</div>
<div class="t n r" style="left:757.7px;top:1342px">1723</div>
<div class="t n r" style="left:860.6px;top:1342px">168</div>
<div class="t n r" style="left:954.1px;top:1342px">0.76</div>
<div class="t n r" style="left:1055.0px;top:1342px">1583</div>
<div class="t n r" style="left:1157.8px;top:1342px">18</div>
<div class="t n r" style="left:1251.3px;top:1342px">0.90</div>
<div class="t n r" style="left:1352.2px;top:1342px">1465</div>
<div class="t n r" style="left:1455.1px;top:1342px">1</div>
<div class="t n r" style="left:1548.6px;top:1342px">0.97</div>
<div class="t n r" style="left:1649.5px;top:1342px">1427</div>
<div class="t n r" style="left:1752.3px;top:1342px">0</div>
<div class="t n r" style="left:1845.8px;top:1342px">1.00</div>
<div class="t" style="left:20.6px;top:1377px">Sag1 MNT (moist</div>
<div class="t" style="left:20.6px;top:1414px">nonacidic tundra)</div>
<div class="t n r" style="left:163.2px;top:1416px">3840</div>
<div class="t n r" style="left:266.1px;top:1416px">912</div>
<div class="t n r" style="left:359.6px;top:1416px">0.67</div>
<div class="t n r" style="left:460.5px;top:1416px">2313</div>
<div class="t n r" style="left:563.4px;top:1416px">914</div>
<div class="t n r" style="left:656.9px;top:1416px">0.61</div>
<div class="t n r" style="left:757.7px;top:1416px">2209</div>
<div class="t n r" style="left:860.6px;top:1416px">521</div>
<div class="t n r" style="left:954.1px;top:1416px">0.67</div>
<div class="t n r" style="left:1055.0px;top:1416px">2227</div>
<div class="t n r" style="left:1157.8px;top:1416px">202</div>
<div class="t n r" style="left:1251.3px;top:1416px">0.77</div>
<div class="t n r" style="left:1352.2px;top:1416px">2259</div>
<div class="t n r" style="left:1455.1px;top:1416px">36</div>
<div class="t n r" style="left:1548.6px;top:1416px">0.89</div>
<div class="t n r" style="left:1649.5px;top:1416px">2425</div>
<div class="t n r" style="left:1752.3px;top:1416px">5</div>
<div class="t n r" style="left:1845.8px;top:1416px">0.96</div>
<div class="t" style="left:20.6px;top:1451px">Sag2 MAT (moist</div>
<div class="t" style="left:20.6px;top:1487px">acidic tundra)</div>
<div class="t n r" style="left:460.5px;top:1489px">2012</div>
<div class="t n r" style="left:563.4px;top:1489px">900</div>
<div class="t n r" style="left:656.9px;top:1489px">0.60</div>
<div class="t n r" style="left:757.7px;top:1489px">2207</div>
<div class="t n r" style="left:860.6px;top:1489px">186</div>
<div class="t n r" style="left:954.1px;top:1489px">0.78</div>
<div class="t n r" style="left:1055.0px;top:1489px">2287</div>
<div class="t n r" style="left:1157.8px;top:1489px">44</div>
<div class="t n r" style="left:1251.3px;top:1489px">0.88</div>
<div class="t n r" style="left:1352.2px;top:1489px">2281</div>
<div class="t n r" style="left:1455.1px;top:1489px">12</div>
<div class="t n r" style="left:1548.6px;top:1489px">0.93</div>
<div class="t n r" style="left:1649.5px;top:1489px">2098</div>
<div class="t n r" style="left:1752.3px;top:1489px">3</div>
<div class="t n r" style="left:1845.8px;top:1489px">0.96</div>
<div class="t" style="left:20.6px;top:1524px">Selawik Village</div>
<div class="t n r" style="left:163.2px;top:1526px">2556</div>
<div class="t n r" style="left:266.1px;top:1526px">1579</div>
<div class="t n r" style="left:359.6px;top:1526px">0.56</div>
<div class="t n r" style="left:460.5px;top:1526px">1266</div>
<div class="t n r" style="left:563.4px;top:1526px">1452</div>
<div class="t n r" style="left:656.9px;top:1526px">0.48</div>
<div class="t n r" style="left:757.7px;top:1526px">1626</div>
<div class="t n r" style="left:860.6px;top:1526px">148</div>
<div class="t n r" style="left:954.1px;top:1526px">0.77</div>
<div class="t n r" style="left:1055.0px;top:1526px">1695</div>
<div class="t n r" style="left:1157.8px;top:1526px">0</div>
<div class="t n r" style="left:1251.3px;top:1526px">1.00</div>
<div class="t n r" style="left:1352.2px;top:1526px">1608</div>
<div class="t n r" style="left:1455.1px;top:1526px">0</div>
<div class="t n r" style="left:1548.6px;top:1526px">1.00</div>
<div class="t n r" style="left:1649.5px;top:1526px">1542</div>
<div class="t n r" style="left:1752.3px;top:1526px">0</div>
<div class="t n r" style="left:1845.8px;top:1526px">1.00</div>
<div class="t" style="left:20.6px;top:1561px">Smith Lake 1</div>
<div class="t n r" style="left:163.2px;top:1563px">3086</div>
<div class="t n r" style="left:266.1px;top:1563px">1659</div>
<div class="t n r" style="left:359.6px;top:1563px">0.58</div>
<div class="t n r" style="left:460.5px;top:1563px">1273</div>
<div class="t n r" style="left:563.4px;top:1563px">1581</div>
<div class="t n r" style="left:656.9px;top:1563px">0.47</div>
<div class="t n r" style="left:757.7px;top:1563px">488</div>
<div class="t n r" style="left:860.6px;top:1563px">70</div>
<div class="t n r" style="left:954.1px;top:1563px">0.73</div>
<div class="t n r" style="left:1055.0px;top:1563px">469</div>
<div class="t n r" style="left:1157.8px;top:1563px">1</div>
<div class="t n r" style="left:1251.3px;top:1563px">0.96</div>
<div class="t n r" style="left:1352.2px;top:1563px">429</div>
<div class="t n r" style="left:1455.1px;top:1563px">0</div>
<div class="t n r" style="left:1548.6px;top:1563px">1.00</div>
<div class="t n r" style="left:1649.5px;top:1563px">415</div>
<div class="t n r" style="left:1752.3px;top:1563px">0</div>
<div class="t n r" style="left:1845.8px;top:1563px">1.00</div>
<div class="t" style="left:20.6px;top:1598px">Smith Lake 2</div>
<div class="t n r" style="left:163.2px;top:1600px">3254</div>
<div class="t n r" style="left:266.1px;top:1600px">1624</div>
<div class="t n r" style="left:359.6px;top:1600px">0.59</div>
<div class="t n r" style="left:460.5px;top:1600px">712</div>
<div class="t n r" style="left:563.4px;top:1600px">1723</div>
<div class="t n r" style="left:656.9px;top:1600px">0.39</div>
<div class="t n r" style="left:757.7px;top:1600px">779</div>
<div class="t n r" style="left:860.6px;top:1600px">392</div>
<div class="t n r" style="left:954.1px;top:1600px">0.59</div>
<div class="t n r" style="left:1055.0px;top:1600px">810</div>
<div class="t n r" style="left:1157.8px;top:1600px">120</div>
<div class="t n r" style="left:1251.3px;top:1600px">0.72</div>
<div class="t n r" style="left:1352.2px;top:1600px">781</div>
<div class="t n r" style="left:1455.1px;top:1600px">13</div>
<div class="t n r" style="left:1548.6px;top:1600px">0.89</div>
<div class="t n r" style="left:1649.5px;top:1600px">748</div>
<div class="t n r" style="left:1752.3px;top:1600px">1</div>
<div class="t n r" style="left:1845.8px;top:1600px">0.96</div>
<div class="t" style="left:20.6px;top:1635px">Smith Lake 3</div>
<div class="t n r" style="left:163.2px;top:1637px">3510</div>
<div class="t n r" style="left:266.1px;top:1637px">1482</div>
<div class="t n r" style="left:359.6px;top:1637px">0.61</div>
<div class="t n r" style="left:460.5px;top:1637px">275</div>
<div class="t n r" style="left:563.4px;top:1637px">1739</div>
<div class="t n r" style="left:656.9px;top:1637px">0.28</div>
<div class="t n r" style="left:757.7px;top:1637px">227</div>
<div class="t n r" style="left:860.6px;top:1637px">773</div>
<div class="t n r" style="left:954.1px;top:1637px">0.35</div>
<div class="t n r" style="left:1055.0px;top:1637px">114</div>
<div class="t n r" style="left:1157.8px;top:1637px">514</div>
<div class="t n r" style="left:1251.3px;top:1637px">0.32</div>
<div class="t n r" style="left:1352.2px;top:1637px">60</div>
<div class="t n r" style="left:1455.1px;top:1637px">324</div>
<div class="t n r" style="left:1548.6px;top:1637px">0.30</div>
<div class="t n r" style="left:1649.5px;top:1637px">36</div>
<div class="t n r" style="left:1752.3px;top:1637px">137</div>
<div class="t n r" style="left:1845.8px;top:1637px">0.34</div>
<div class="t" style="left:20.6px;top:1672px">Smith Lake 4</div>
<div class="t n r" style="left:163.2px;top:1674px">3384</div>
<div class="t n r" style="left:266.1px;top:1674px">1934</div>
<div class="t n r" style="left:359.6px;top:1674px">0.57</div>
<div class="t n r" style="left:460.5px;top:1674px">2084</div>
<div class="t n r" style="left:563.4px;top:1674px">966</div>
<div class="t n r" style="left:656.9px;top:1674px">0.59</div>
<div class="t n r" style="left:757.7px;top:1674px">1815</div>
<div class="t n r" style="left:860.6px;top:1674px">353</div>
<div class="t n r" style="left:954.1px;top:1674px">0.69</div>
<div class="t n r" style="left:1055.0px;top:1674px">2064</div>
<div class="t n r" style="left:1157.8px;top:1674px">39</div>
<div class="t n r" style="left:1251.3px;top:1674px">0.88</div>
<div class="t n r" style="left:1352.2px;top:1674px">2082</div>
<div class="t n r" style="left:1455.1px;top:1674px">0</div>
<div class="t n r" style="left:1548.6px;top:1674px">1.00</div>
<div class="t n r" style="left:1649.5px;top:1674px">1996</div>
<div class="t n r" style="left:1752.3px;top:1674px">0</div>
<div class="t n r" style="left:1845.8px;top:1674px">1.00</div>
<div class="t" style="left:20.6px;top:1709px">UAF Farm</div>
<div class="t n r" style="left:163.2px;top:1711px">2779</div>
<div class="t n r" style="left:266.1px;top:1711px">1773</div>
<div class="t n r" style="left:359.6px;top:1711px">0.56</div>
<div class="t n r" style="left:460.5px;top:1711px">1216</div>
<div class="t n r" style="left:563.4px;top:1711px">1599</div>
<div class="t n r" style="left:656.9px;top:1711px">0.47</div>
<div class="t n r" style="left:757.7px;top:1711px">499</div>
<div class="t n r" style="left:860.6px;top:1711px">1043</div>
<div class="t n r" style="left:954.1px;top:1711px">0.41</div>
<div class="t n r" style="left:1055.0px;top:1711px">279</div>
<div class="t n r" style="left:1157.8px;top:1711px">959</div>
<div class="t n r" style="left:1251.3px;top:1711px">0.35</div>
<div class="t n r" style="left:1352.2px;top:1711px">135</div>
<div class="t n r" style="left:1455.1px;top:1711px">949</div>
<div class="t n r" style="left:1548.6px;top:1711px">0.27</div>
<div class="t n r" style="left:1649.5px;top:1711px">51</div>
<div class="t n r" style="left:1752.3px;top:1711px">891</div>
<div class="t n r" style="left:1845.8px;top:1711px">0.19</div>
<div class="t" style="left:20.6px;top:1745px">West Dock</div>
<div class="t n r" style="left:163.2px;top:1747px">4491</div>
<div class="t n r" style="left:266.1px;top:1747px">475</div>
<div class="t n r" style="left:359.6px;top:1747px">0.75</div>
<div class="t n r" style="left:460.5px;top:1747px">3108</div>
<div class="t n r" style="left:563.4px;top:1747px">400</div>
<div class="t n r" style="left:656.9px;top:1747px">0.74</div>
<div class="t n r" style="left:757.7px;top:1747px">3181</div>
<div class="t n r" style="left:860.6px;top:1747px">22</div>
<div class="t n r" style="left:954.1px;top:1747px">0.92</div>
<div class="t n r" style="left:1055.0px;top:1747px">3186</div>
<div class="t n r" style="left:1157.8px;top:1747px">0</div>
<div class="t n r" style="left:1251.3px;top:1747px">1.00</div>
<div class="t n r" style="left:1352.2px;top:1747px">3121</div>
<div class="t n r" style="left:1455.1px;top:1747px">0</div>
<div class="t n r" style="left:1548.6px;top:1747px">1.00</div>
<div class="t" style="left:20.6px;top:1782px">Gakona 1</div>
<div class="t n r" style="left:163.2px;top:1784px">3068</div>
<div class="t n r" style="left:266.1px;top:1784px">1361</div>
<div class="t n r" style="left:359.6px;top:1784px">0.60</div>
<div class="t n r" style="left:460.5px;top:1784px">483</div>
<div class="t n r" style="left:563.4px;top:1784px">1573</div>
<div class="t n r" style="left:656.9px;top:1784px">0.36</div>
<div class="t n r" style="left:757.7px;top:1784px">434</div>
<div class="t n r" style="left:860.6px;top:1784px">303</div>
<div class="t n r" style="left:954.1px;top:1784px">0.54</div>
<div class="t n r" style="left:1055.0px;top:1784px">443</div>
<div class="t n r" style="left:1157.8px;top:1784px">35</div>
<div class="t n r" style="left:1251.3px;top:1784px">0.78</div>
<div class="t n r" style="left:1352.2px;top:1784px">437</div>
<div class="t n r" style="left:1455.1px;top:1784px">0</div>
<div class="t n r" style="left:1548.6px;top:1784px">1.00</div>
<div class="t n r" style="left:1649.5px;top:1784px">336</div>
<div class="t n r" style="left:1752.3px;top:1784px">0</div>
<div class="t n r" style="left:1845.8px;top:1784px">1.00</div>
<div class="t" style="left:20.6px;top:1819px">Gakona 2</div>
<div class="t n r" style="left:163.2px;top:1821px">3046</div>
<div class="t n r" style="left:266.1px;top:1821px">1402</div>
<div class="t n r" style="left:359.6px;top:1821px">0.60</div>
<div class="t n r" style="left:460.5px;top:1821px">564</div>
<div class="t n r" style="left:563.4px;top:1821px">1311</div>
<div class="t n r" style="left:656.9px;top:1821px">0.40</div>
<div class="t n r" style="left:757.7px;top:1821px">428</div>
<div class="t n r" style="left:860.6px;top:1821px">578</div>
<div class="t n r" style="left:954.1px;top:1821px">0.46</div>
<div class="t n r" style="left:1055.0px;top:1821px">261</div>
<div class="t n r" style="left:1157.8px;top:1821px">294</div>
<div class="t n r" style="left:1251.3px;top:1821px">0.49</div>
<div class="t n r" style="left:1352.2px;top:1821px">160</div>
<div class="t n r" style="left:1455.1px;top:1821px">233</div>
<div class="t n r" style="left:1548.6px;top:1821px">0.45</div>
<div class="t n r" style="left:1649.5px;top:1821px">139</div>
<div class="t n r" style="left:1752.3px;top:1821px">145</div>
<div class="t n r" style="left:1845.8px;top:1821px">0.49</div>
<div class="t" style="left:20.6px;top:1856px">ASIA2</div>
<div class="t n r" style="left:163.2px;top:1858px">1861</div>
<div class="t n r" style="left:266.1px;top:1858px">1339</div>
<div class="t n r" style="left:359.6px;top:1858px">0.54</div>
<div class="t n r" style="left:757.7px;top:1858px">1657</div>
<div class="t n r" style="left:860.6px;top:1858px">1150</div>
<div class="t n r" style="left:954.1px;top:1858px">0.55</div>
<div class="t n r" style="left:1055.0px;top:1858px">1617</div>
<div class="t n r" style="left:1157.8px;top:1858px">1030</div>
<div class="t n r" style="left:1251.3px;top:1858px">0.56</div>
<div class="t" style="left:20.6px;top:1893px">CCLA2</div>
<div class="t n r" style="left:163.2px;top:1895px">3656</div>
<div class="t n r" style="left:266.1px;top:1895px">1559</div>
<div class="t n r" style="left:359.6px;top:1895px">0.60</div>
<div class="t n r" style="left:757.7px;top:1895px">1430</div>
<div class="t n r" style="left:860.6px;top:1895px">551</div>
<div class="t n r" style="left:954.1px;top:1895px">0.62</div>
<div class="t n r" style="left:1055.0px;top:1895px">1162</div>
<div class="t n r" style="left:1157.8px;top:1895px">23</div>
<div class="t n r" style="left:1251.3px;top:1895px">0.88</div>
<div class="t n r" style="left:1352.2px;top:1895px">1113</div>
<div class="t n r" style="left:1455.1px;top:1895px">3</div>
<div class="t n r" style="left:1548.6px;top:1895px">0.95</div>
<div class="t" style="left:20.6px;top:1930px">CHMA2</div>
<div class="t n r" style="left:163.2px;top:1932px">2104</div>
<div class="t n r" style="left:266.1px;top:1932px">981</div>
<div class="t n r" style="left:359.6px;top:1932px">0.59</div>
<div class="t n r" style="left:757.7px;top:1932px">2222</div>
<div class="t n r" style="left:860.6px;top:1932px">936</div>
<div class="t n r" style="left:954.1px;top:1932px">0.61</div>
<div class="t n r" style="left:1055.0px;top:1932px">1837</div>
<div class="t n r" style="left:1157.8px;top:1932px">478</div>
<div class="t n r" style="left:1251.3px;top:1932px">0.66</div>
<div class="t n r" style="left:1352.2px;top:1932px">1537</div>
<div class="t n r" style="left:1455.1px;top:1932px">358</div>
<div class="t n r" style="left:1548.6px;top:1932px">0.67</div>
<div class="t" style="left:20.6px;top:1967px">CREA2</div>
<div class="t n r" style="left:163.2px;top:1969px">2248</div>
<div class="t n r" style="left:266.1px;top:1969px">817</div>
<div class="t n r" style="left:359.6px;top:1969px">0.62</div>
<div class="t n r" style="left:460.5px;top:1969px">1481</div>
<div class="t n r" style="left:563.4px;top:1969px">1274</div>
<div class="t n r" style="left:656.9px;top:1969px">0.52</div>
<div class="t n r" style="left:757.7px;top:1969px">1412</div>
<div class="t n r" style="left:860.6px;top:1969px">725</div>
<div class="t n r" style="left:954.1px;top:1969px">0.58</div>
<div class="t n r" style="left:1055.0px;top:1969px">1267</div>
<div class="t n r" style="left:1157.8px;top:1969px">396</div>
<div class="t n r" style="left:1251.3px;top:1969px">0.64</div>
<div class="t n r" style="left:1352.2px;top:1969px">1131</div>
<div class="t n r" style="left:1455.1px;top:1969px">129</div>
<div class="t n r" style="left:1548.6px;top:1969px">0.75</div>
<div class="t n r" style="left:1649.5px;top:1969px">1046</div>
<div class="t n r" style="left:1752.3px;top:1969px">15</div>
<div class="t n r" style="left:1845.8px;top:1969px">0.89</div>
<div class="t" style="left:20.6px;top:2004px">CTUA2</div>
<div class="t n r" style="left:163.2px;top:2006px">1880</div>
<div class="t n r" style="left:266.1px;top:2006px">868</div>
<div class="t n r" style="left:359.6px;top:2006px">0.60</div>
<div class="t n r" style="left:460.5px;top:2006px">1510</div>
<div class="t n r" style="left:563.4px;top:2006px">1438</div>
<div class="t n r" style="left:656.9px;top:2006px">0.51</div>
<div class="t n r" style="left:757.7px;top:2006px">1434</div>
<div class="t n r" style="left:860.6px;top:2006px">870</div>
<div class="t n r" style="left:954.1px;top:2006px">0.56</div>
<div class="t n r" style="left:1055.0px;top:2006px">1310</div>
<div class="t n r" style="left:1157.8px;top:2006px">751</div>
<div class="t n r" style="left:1251.3px;top:2006px">0.57</div>
<div class="t" style="left:20.6px;top:2040px">DKLA2</div>
<div class="t n r" style="left:163.2px;top:2042px">2264</div>
<div class="t n r" style="left:266.1px;top:2042px">1084</div>
<div class="t n r" style="left:359.6px;top:2042px">0.59</div>
<div class="t n r" style="left:757.7px;top:2042px">725</div>
<div class="t n r" style="left:860.6px;top:2042px">1350</div>
<div class="t n r" style="left:954.1px;top:2042px">0.42</div>
<div class="t n r" style="left:1055.0px;top:2042px">566</div>
<div class="t n r" style="left:1157.8px;top:2042px">1216</div>
<div class="t n r" style="left:1251.3px;top:2042px">0.41</div>
<div class="t n r" style="left:1352.2px;top:2042px">428</div>
<div class="t n r" style="left:1455.1px;top:2042px">1098</div>
<div class="t n r" style="left:1548.6px;top:2042px">0.38</div>
<div class="t n r" style="left:1649.5px;top:2042px">321</div>
<div class="t n r" style="left:1752.3px;top:2042px">997</div>
<div class="t n r" style="left:1845.8px;top:2042px">0.36</div>
<div class="t" style="left:20.6px;top:2077px">DVLA2</div>
<div class="t n r" style="left:163.2px;top:2079px">3031</div>
<div class="t n r" style="left:266.1px;top:2079px">1010</div>
<div class="t n r" style="left:359.6px;top:2079px">0.63</div>
<div class="t n r" style="left:757.7px;top:2079px">1742</div>
<div class="t n r" style="left:860.6px;top:2079px">360</div>
<div class="t n r" style="left:954.1px;top:2079px">0.69</div>
<div class="t n r" style="left:1055.0px;top:2079px">1724</div>
<div class="t n r" style="left:1157.8px;top:2079px">143</div>
<div class="t n r" style="left:1251.3px;top:2079px">0.78</div>
<div class="t" style="left:20.6px;top:2114px">ELLA2</div>
<div class="t n r" style="left:163.2px;top:2116px">2298</div>
<div class="t n r" style="left:266.1px;top:2116px">975</div>
<div class="t n r" style="left:359.6px;top:2116px">0.61</div>
<div class="t n r" style="left:757.7px;top:2116px">1545</div>
<div class="t n r" style="left:860.6px;top:2116px">1030</div>
<div class="t n r" style="left:954.1px;top:2116px">0.55</div>
<div class="t n r" style="left:1055.0px;top:2116px">1530</div>
<div class="t n r" style="left:1157.8px;top:2116px">760</div>
<div class="t n r" style="left:1251.3px;top:2116px">0.59</div>
<div class="t" style="left:20.6px;top:2151px">GGLA2</div>
<div class="t n r" style="left:163.2px;top:2153px">1753</div>
<div class="t n r" style="left:266.1px;top:2153px">953</div>
<div class="t n r" style="left:359.6px;top:2153px">0.58</div>
<div class="t n r" style="left:460.5px;top:2153px">79</div>
<div class="t n r" style="left:563.4px;top:2153px">2028</div>
<div class="t n r" style="left:656.9px;top:2153px">0.16</div>
<div class="t n r" style="left:757.7px;top:2153px">17</div>
<div class="t n r" style="left:860.6px;top:2153px">1824</div>
<div class="t n r" style="left:954.1px;top:2153px">0.09</div>
<div class="t n r" style="left:1055.0px;top:2153px">4</div>
<div class="t n r" style="left:1157.8px;top:2153px">1642</div>
<div class="t n r" style="left:1251.3px;top:2153px">0.05</div>
<div class="t" style="left:20.6px;top:2188px">HOWA2</div>
<div class="t n r" style="left:163.2px;top:2190px">3292</div>
<div class="t n r" style="left:266.1px;top:2190px">901</div>
<div class="t n r" style="left:359.6px;top:2190px">0.66</div>
<div class="t n r" style="left:757.7px;top:2190px">3295</div>
<div class="t n r" style="left:860.6px;top:2190px">678</div>
<div class="t n r" style="left:954.1px;top:2190px">0.69</div>
<div class="t n r" style="left:1055.0px;top:2190px">3111</div>
<div class="t n r" style="left:1157.8px;top:2190px">516</div>
<div class="t n r" style="left:1251.3px;top:2190px">0.71</div>
<div class="t" style="left:20.6px;top:2225px">IMYA2</div>
<div class="t n r" style="left:163.2px;top:2227px">2038</div>
<div class="t n r" style="left:266.1px;top:2227px">880</div>
<div class="t n r" style="left:359.6px;top:2227px">0.60</div>
<div class="t n r" style="left:757.7px;top:2227px">1849</div>
<div class="t n r" style="left:860.6px;top:2227px">995</div>
<div class="t n r" style="left:954.1px;top:2227px">0.58</div>
<div class="t n r" style="left:1055.0px;top:2227px">1887</div>
<div class="t n r" style="left:1157.8px;top:2227px">547</div>
<div class="t n r" style="left:1251.3px;top:2227px">0.65</div>
<div class="t" style="left:20.6px;top:2262px">KAUA2</div>
<div class="t n r" style="left:163.2px;top:2264px">3027</div>
<div class="t n r" style="left:266.1px;top:2264px">904</div>
<div class="t n r" style="left:359.6px;top:2264px">0.65</div>
<div class="t n r" style="left:757.7px;top:2264px">1764</div>
<div class="t n r" style="left:860.6px;top:2264px">623</div>
<div class="t n r" style="left:954.1px;top:2264px">0.63</div>
<div class="t n r" style="left:1055.0px;top:2264px">1674</div>
<div class="t n r" style="left:1157.8px;top:2264px">452</div>
<div class="t n r" style="left:1251.3px;top:2264px">0.66</div>
<div class="t" style="left:20.6px;top:2298px">KLIA2</div>
<div class="t n r" style="left:163.2px;top:2300px">2763</div>
<div class="t n r" style="left:266.1px;top:2300px">624</div>
<div class="t n r" style="left:359.6px;top:2300px">0.68</div>
<div class="t n r" style="left:757.7px;top:2300px">2201</div>
<div class="t n r" style="left:860.6px;top:2300px">366</div>
<div class="t n r" style="left:954.1px;top:2300px">0.71</div>
<div class="t n r" style="left:1055.0px;top:2300px">2257</div>
<div class="t n r" style="left:1157.8px;top:2300px">208</div>
<div class="t n r" style="left:1251.3px;top:2300px">0.77</div>
<div class="t" style="left:20.6px;top:2335px">KUGA2</div>
<div class="t n r" style="left:163.2px;top:2337px">2057</div>
<div class="t n r" style="left:266.1px;top:2337px">1491</div>
<div class="t n r" style="left:359.6px;top:2337px">0.54</div>
<div class="t n r" style="left:757.7px;top:2337px">1255</div>
<div class="t n r" style="left:860.6px;top:2337px">1418</div>
<div class="t n r" style="left:954.1px;top:2337px">0.48</div>
<div class="t n r" style="left:1055.0px;top:2337px">1245</div>
<div class="t n r" style="left:1157.8px;top:2337px">1066</div>
<div class="t n r" style="left:1251.3px;top:2337px">0.52</div>
<div class="t" style="left:20.6px;top:2372px">MITA2</div>
<svg class="ln" width="2067" height="3126" viewBox="0 0 2067 3126" fill="#111">
<rect x="0.30" y="0.40" width="2065.60" height="1.70"/>
<rect x="283.60" y="52.90" width="1782.30" height="1.50"/>
<rect x="0.30" y="113.62" width="2065.60" height="1.55"/>
<rect x="0.30" y="2419.67" width="2065.60" height="1.55"/>
<rect x="579.82" y="11.20" width="1.45" height="37.00"/>
<rect x="579.82" y="67.00" width="1.45" height="37.40"/>
<rect x="579.82" y="124.20" width="1.45" height="2286.10"/>
<rect x="877.07" y="11.20" width="1.45" height="37.00"/>
<rect x="877.07" y="67.00" width="1.45" height="37.40"/>
<rect x="877.07" y="124.20" width="1.45" height="2286.10"/>
<rect x="1174.33" y="11.20" width="1.45" height="37.00"/>
<rect x="1174.33" y="67.00" width="1.45" height="37.40"/>
<rect x="1174.33" y="124.20" width="1.45" height="2286.10"/>
<rect x="1471.58" y="11.20" width="1.45" height="37.00"/>
<rect x="1471.58" y="67.00" width="1.45" height="37.40"/>
<rect x="1471.58" y="124.20" width="1.45" height="2286.10"/>
<rect x="1768.83" y="11.20" width="1.45" height="37.00"/>
<rect x="1768.83" y="67.00" width="1.45" height="37.40"/>
<rect x="1768.83" y="124.20" width="1.45" height="2286.10"/>
</svg>
</div>
<div class="k2" style="will-change:transform">
<div class="t" style="left:24.6px;top:2473px">Site</div>
<div class="t c" style="left:119.5px;top:2473px">Air</div>
<div class="t" style="left:183.0px;top:2534px">DDF</div>
<div class="t" style="left:291.3px;top:2534px">DDT</div>
<div class="t r" style="left:256.4px;top:2534px">FN</div>
<div class="t c" style="left:439.8px;top:2473px">Ground surface</div>
<div class="t" style="left:503.3px;top:2534px">DDF</div>
<div class="t" style="left:611.6px;top:2534px">DDT</div>
<div class="t r" style="left:576.7px;top:2534px">FN</div>
<div class="t c" style="left:760.1px;top:2473px">Ground 0.25&#8201;m</div>
<div class="t" style="left:823.6px;top:2534px">DDF</div>
<div class="t" style="left:931.9px;top:2534px">DDT</div>
<div class="t r" style="left:897.0px;top:2534px">FN</div>
<div class="t c" style="left:1080.4px;top:2473px">Ground 0.50&#8201;m</div>
<div class="t" style="left:1143.9px;top:2534px">DDF</div>
<div class="t" style="left:1252.2px;top:2534px">DDT</div>
<div class="t r" style="left:1217.3px;top:2534px">FN</div>
<div class="t c" style="left:1400.7px;top:2473px">Ground 0.75&#8201;m</div>
<div class="t" style="left:1464.2px;top:2534px">DDF</div>
<div class="t" style="left:1572.5px;top:2534px">DDT</div>
<div class="t r" style="left:1537.6px;top:2534px">FN</div>
<div class="t c" style="left:1713.5px;top:2473px">Ground 1.00&#8201;m</div>
<div class="t" style="left:1784.5px;top:2534px">DDF</div>
<div class="t" style="left:1892.8px;top:2534px">DDT</div>
<div class="t r" style="left:1842.6px;top:2534px">FN</div>
<div class="t" style="left:24.6px;top:2596px">MNOA2</div>
<div class="t n r" style="left:46.9px;top:2597px">2447</div>
<div class="t n r" style="left:157.4px;top:2597px">1295</div>
<div class="t n r" style="left:257.6px;top:2597px">0.58</div>
<div class="t n r" style="left:687.5px;top:2597px">963</div>
<div class="t n r" style="left:798.0px;top:2597px">1050</div>
<div class="t n r" style="left:898.2px;top:2597px">0.49</div>
<div class="t n r" style="left:1007.8px;top:2597px">1144</div>
<div class="t n r" style="left:1118.3px;top:2597px">959</div>
<div class="t n r" style="left:1218.5px;top:2597px">0.52</div>
<div class="t n r" style="left:1328.1px;top:2597px">1059</div>
<div class="t n r" style="left:1438.6px;top:2597px">704</div>
<div class="t n r" style="left:1538.8px;top:2597px">0.55</div>
<div class="t" style="left:24.6px;top:2636px">PAMA2</div>
<div class="t n r" style="left:46.9px;top:2637px">2374</div>
<div class="t n r" style="left:157.4px;top:2637px">1101</div>
<div class="t n r" style="left:257.6px;top:2637px">0.59</div>
<div class="t n r" style="left:687.5px;top:2637px">2135</div>
<div class="t n r" style="left:798.0px;top:2637px">611</div>
<div class="t n r" style="left:898.2px;top:2637px">0.65</div>
<div class="t n r" style="left:1007.8px;top:2637px">2117</div>
<div class="t n r" style="left:1118.3px;top:2637px">409</div>
<div class="t n r" style="left:1218.5px;top:2637px">0.69</div>
<div class="t" style="left:24.6px;top:2675px">RAMA2</div>
<div class="t n r" style="left:46.9px;top:2676px">2373</div>
<div class="t n r" style="left:157.4px;top:2676px">1066</div>
<div class="t n r" style="left:257.6px;top:2676px">0.60</div>
<div class="t n r" style="left:687.5px;top:2676px">1916</div>
<div class="t n r" style="left:798.0px;top:2676px">952</div>
<div class="t n r" style="left:898.2px;top:2676px">0.59</div>
<div class="t n r" style="left:1007.8px;top:2676px">1854</div>
<div class="t n r" style="left:1118.3px;top:2676px">1036</div>
<div class="t n r" style="left:1218.5px;top:2676px">0.57</div>
<div class="t" style="left:24.6px;top:2715px">RUGA2</div>
<div class="t n r" style="left:46.9px;top:2716px">1075</div>
<div class="t n r" style="left:157.4px;top:2716px">1250</div>
<div class="t n r" style="left:257.6px;top:2716px">0.48</div>
<div class="t" style="left:24.6px;top:2755px">SRTA2</div>
<div class="t n r" style="left:46.9px;top:2756px">2998</div>
<div class="t n r" style="left:157.4px;top:2756px">1138</div>
<div class="t n r" style="left:257.6px;top:2756px">0.62</div>
<div class="t n r" style="left:687.5px;top:2756px">1192</div>
<div class="t n r" style="left:798.0px;top:2756px">1147</div>
<div class="t n r" style="left:898.2px;top:2756px">0.50</div>
<div class="t n r" style="left:1007.8px;top:2756px">1063</div>
<div class="t n r" style="left:1118.3px;top:2756px">1122</div>
<div class="t n r" style="left:1218.5px;top:2756px">0.49</div>
<div class="t" style="left:24.6px;top:2795px">SRWA2</div>
<div class="t n r" style="left:46.9px;top:2796px">2142</div>
<div class="t n r" style="left:157.4px;top:2796px">1510</div>
<div class="t n r" style="left:257.6px;top:2796px">0.54</div>
<div class="t n r" style="left:687.5px;top:2796px">928</div>
<div class="t n r" style="left:798.0px;top:2796px">1826</div>
<div class="t n r" style="left:898.2px;top:2796px">0.42</div>
<div class="t n r" style="left:1007.8px;top:2796px">786</div>
<div class="t n r" style="left:1118.3px;top:2796px">1516</div>
<div class="t n r" style="left:1218.5px;top:2796px">0.42</div>
<div class="t" style="left:24.6px;top:2834px">SSIA2</div>
<div class="t n r" style="left:46.9px;top:2835px">2993</div>
<div class="t n r" style="left:157.4px;top:2835px">1062</div>
<div class="t n r" style="left:257.6px;top:2835px">0.63</div>
<div class="t n r" style="left:687.5px;top:2835px">2234</div>
<div class="t n r" style="left:798.0px;top:2835px">771</div>
<div class="t n r" style="left:898.2px;top:2835px">0.63</div>
<div class="t n r" style="left:1007.8px;top:2835px">2165</div>
<div class="t n r" style="left:1118.3px;top:2835px">608</div>
<div class="t n r" style="left:1218.5px;top:2835px">0.65</div>
<div class="t n r" style="left:1328.1px;top:2835px">1789</div>
<div class="t n r" style="left:1438.6px;top:2835px">526</div>
<div class="t n r" style="left:1538.8px;top:2835px">0.65</div>
<div class="t" style="left:24.6px;top:2874px">TAHA2</div>
<div class="t n r" style="left:46.9px;top:2875px">2702</div>
<div class="t n r" style="left:157.4px;top:2875px">1149</div>
<div class="t n r" style="left:257.6px;top:2875px">0.61</div>
<div class="t n r" style="left:687.5px;top:2875px">1590</div>
<div class="t n r" style="left:798.0px;top:2875px">1175</div>
<div class="t n r" style="left:898.2px;top:2875px">0.54</div>
<div class="t n r" style="left:1007.8px;top:2875px">1565</div>
<div class="t n r" style="left:1118.3px;top:2875px">1027</div>
<div class="t n r" style="left:1218.5px;top:2875px">0.55</div>
<div class="t n r" style="left:1328.1px;top:2875px">1399</div>
<div class="t n r" style="left:1438.6px;top:2875px">631</div>
<div class="t n r" style="left:1538.8px;top:2875px">0.60</div>
<div class="t" style="left:24.6px;top:2914px">TANA2</div>
<div class="t n r" style="left:46.9px;top:2915px">1770</div>
<div class="t n r" style="left:157.4px;top:2915px">1053</div>
<div class="t n r" style="left:257.6px;top:2915px">0.56</div>
<div class="t n r" style="left:687.5px;top:2915px">171</div>
<div class="t n r" style="left:798.0px;top:2915px">1850</div>
<div class="t n r" style="left:898.2px;top:2915px">0.23</div>
<div class="t n r" style="left:1007.8px;top:2915px">106</div>
<div class="t n r" style="left:1118.3px;top:2915px">1505</div>
<div class="t n r" style="left:1218.5px;top:2915px">0.21</div>
<div class="t" style="left:24.6px;top:2954px">TEBA2</div>
<div class="t n r" style="left:46.9px;top:2955px">2237</div>
<div class="t n r" style="left:157.4px;top:2955px">1191</div>
<div class="t n r" style="left:257.6px;top:2955px">0.58</div>
<div class="t n r" style="left:687.5px;top:2955px">66</div>
<div class="t n r" style="left:798.0px;top:2955px">1985</div>
<div class="t n r" style="left:898.2px;top:2955px">0.15</div>
<div class="t n r" style="left:1007.8px;top:2955px">28</div>
<div class="t n r" style="left:1118.3px;top:2955px">1757</div>
<div class="t n r" style="left:1218.5px;top:2955px">0.11</div>
<div class="t" style="left:24.6px;top:2994px">TKLA2</div>
<div class="t n r" style="left:46.9px;top:2995px">2446</div>
<div class="t n r" style="left:157.4px;top:2995px">1151</div>
<div class="t n r" style="left:257.6px;top:2995px">0.59</div>
<div class="t n r" style="left:367.2px;top:2995px">669</div>
<div class="t n r" style="left:477.7px;top:2995px">1809</div>
<div class="t n r" style="left:577.9px;top:2995px">0.38</div>
<div class="t" style="left:24.6px;top:3033px">UPRA2</div>
<div class="t n r" style="left:46.9px;top:3034px">2913</div>
<div class="t n r" style="left:157.4px;top:3034px">1083</div>
<div class="t n r" style="left:257.6px;top:3034px">0.62</div>
<div class="t n r" style="left:367.2px;top:3034px">1552</div>
<div class="t n r" style="left:477.7px;top:3034px">1481</div>
<div class="t n r" style="left:577.9px;top:3034px">0.51</div>
<div class="t n r" style="left:687.5px;top:3034px">1084</div>
<div class="t n r" style="left:798.0px;top:3034px">1142</div>
<div class="t n r" style="left:898.2px;top:3034px">0.49</div>
<div class="t n r" style="left:1007.8px;top:3034px">884</div>
<div class="t n r" style="left:1118.3px;top:3034px">832</div>
<div class="t n r" style="left:1218.5px;top:3034px">0.51</div>
<div class="t" style="left:24.6px;top:3073px">WIGA2</div>
<div class="t n r" style="left:46.9px;top:3074px">2246</div>
<div class="t n r" style="left:157.4px;top:3074px">1402</div>
<div class="t n r" style="left:257.6px;top:3074px">0.56</div>
<div class="t n r" style="left:687.5px;top:3074px">1053</div>
<div class="t n r" style="left:798.0px;top:3074px">289</div>
<div class="t n r" style="left:898.2px;top:3074px">0.66</div>
<div class="t n r" style="left:1007.8px;top:3074px">1120</div>
<div class="t n r" style="left:1118.3px;top:3074px">59</div>
<div class="t n r" style="left:1218.5px;top:3074px">0.81</div>
<svg class="ln" width="2067" height="3126" viewBox="0 0 2067 3126" fill="#111">
<rect x="2.90" y="2463.03" width="2063.00" height="1.75"/>
<rect x="161.00" y="2520.03" width="1904.90" height="1.55"/>
<rect x="2.90" y="2585.40" width="2063.00" height="1.60"/>
<rect x="2.90" y="3124.30" width="2063.00" height="1.50"/>
<rect x="479.85" y="2475.00" width="1.50" height="40.00"/>
<rect x="479.85" y="2535.50" width="1.50" height="39.90"/>
<rect x="479.85" y="2597.40" width="1.50" height="516.60"/>
<rect x="800.15" y="2475.00" width="1.50" height="40.00"/>
<rect x="800.15" y="2535.50" width="1.50" height="39.90"/>
<rect x="800.15" y="2597.40" width="1.50" height="516.60"/>
<rect x="1120.45" y="2475.00" width="1.50" height="40.00"/>
<rect x="1120.45" y="2535.50" width="1.50" height="39.90"/>
<rect x="1120.45" y="2597.40" width="1.50" height="516.60"/>
<rect x="1440.75" y="2475.00" width="1.50" height="40.00"/>
<rect x="1440.75" y="2535.50" width="1.50" height="39.90"/>
<rect x="1440.75" y="2597.40" width="1.50" height="516.60"/>
<rect x="1761.05" y="2475.00" width="1.50" height="40.00"/>
<rect x="1761.05" y="2535.50" width="1.50" height="39.90"/>
<rect x="1761.05" y="2597.40" width="1.50" height="516.60"/>
</svg>
</div>
</body></html>
